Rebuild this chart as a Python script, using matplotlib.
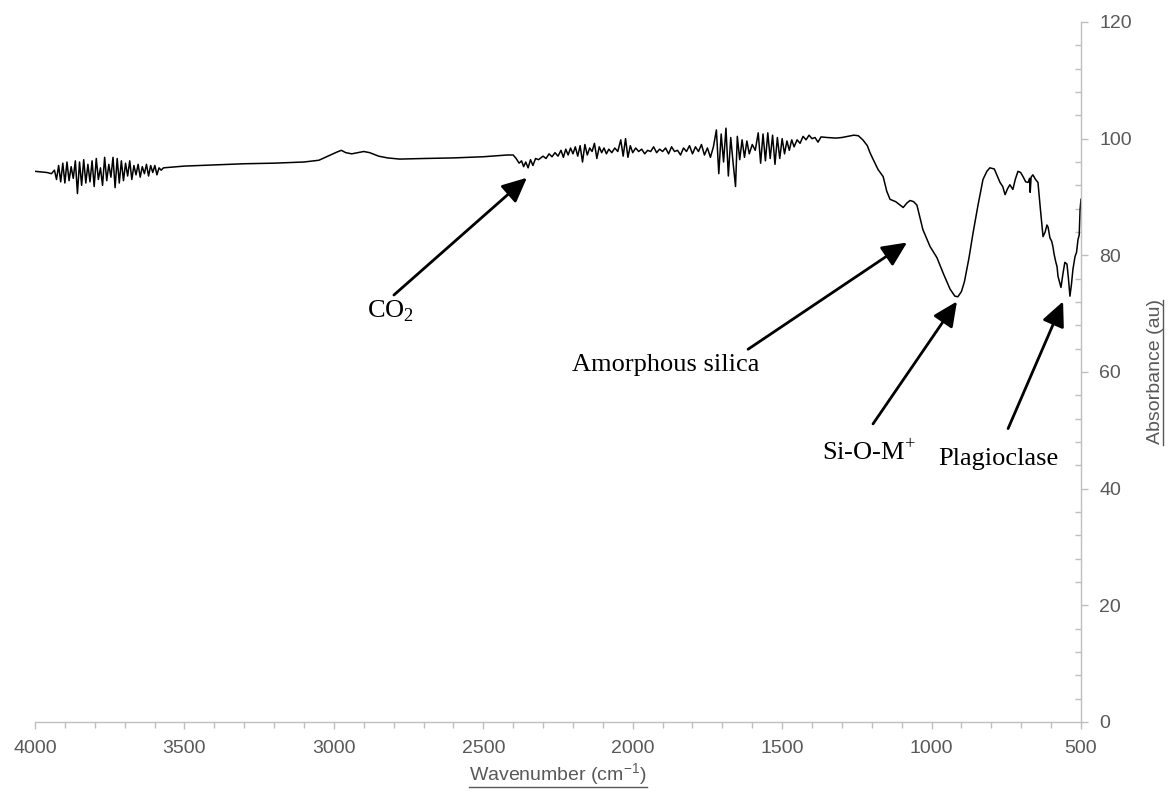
import matplotlib
matplotlib.use("Agg")
import matplotlib.pyplot as plt
from matplotlib.ticker import MultipleLocator
from matplotlib.lines import Line2D

plt.rcParams['font.family'] = ['Liberation Sans', 'DejaVu Sans']
plt.rcParams['mathtext.fontset'] = 'custom'
plt.rcParams['mathtext.rm'] = 'Liberation Serif'
plt.rcParams['mathtext.sf'] = 'Liberation Sans'

# ---- data ----
wavenumber = [
    4000, 3980, 3960, 3945,
    3935, 3928, 3921, 3914, 3907, 3900, 3893, 3886, 3879, 3872, 3865, 3858,
    3851, 3844, 3837, 3830, 3823, 3816, 3809, 3802, 3795, 3788, 3781, 3774,
    3767, 3760, 3753, 3746, 3739, 3732, 3725, 3718, 3711, 3704, 3697, 3690,
    3683, 3676, 3669, 3662, 3655, 3648, 3641, 3634, 3627, 3620, 3613, 3606,
    3599, 3592, 3585, 3578, 3570,
    3500, 3400, 3300, 3200, 3100, 3050, 3020, 2990, 2975, 2960, 2940, 2920,
    2900, 2880, 2850, 2820, 2780, 2700, 2600, 2500, 2420, 2400,
    2390, 2380, 2372, 2365, 2358, 2350, 2342, 2334, 2325, 2315, 2300, 2290,
    2280, 2270, 2260, 2250, 2240, 2232, 2224, 2216, 2208, 2200, 2192, 2184,
    2176, 2168, 2160, 2152, 2144, 2136, 2128, 2120, 2112, 2104, 2096, 2088,
    2080, 2070, 2060, 2050, 2040, 2032, 2024, 2016, 2008, 2000, 1990, 1980,
    1970, 1960, 1950, 1940, 1930, 1920, 1910, 1900, 1890, 1880, 1870, 1860,
    1850, 1840, 1830, 1820, 1810, 1800, 1790, 1780, 1770, 1760, 1750, 1740,
    1730,
    1720, 1712, 1704, 1696, 1688, 1680, 1672, 1664, 1656, 1650, 1642, 1634,
    1626, 1618, 1610, 1600, 1590,
    1580, 1572, 1564, 1556, 1548, 1540, 1532, 1524, 1516, 1508, 1500, 1492,
    1484, 1476, 1468, 1460, 1450, 1440, 1430, 1420, 1410, 1400, 1390, 1380,
    1370, 1350, 1320, 1300, 1280, 1260, 1245, 1230, 1215, 1206, 1196, 1179,
    1162, 1150, 1139, 1120, 1100, 1095, 1082, 1072, 1060, 1049, 1029, 1005,
    982, 960, 938, 922, 912, 900, 890, 875, 861, 845, 828, 815, 805, 790,
    780, 771, 762, 754, 746, 738, 728, 720, 711, 702, 694, 685, 677, 672,
    670, 667, 661, 652, 644, 636, 627, 620, 614, 610, 604, 598, 594, 590,
    585, 580, 577, 567, 560, 554, 547, 542, 537, 532, 527, 520, 515, 510,
    506, 503, 500,
]
absorbance = [
    94.4, 94.3, 94.2, 94.0,
    94.6, 93.0, 95.4, 92.6, 95.8, 92.4, 96.0, 92.8, 95.2, 93.2, 96.2, 90.6,
    96.0, 92.0, 96.4, 92.4, 95.6, 92.6, 96.2, 91.8, 96.6, 93.0, 95.0, 92.0,
    96.8, 92.8, 95.6, 93.4, 96.8, 91.6, 96.6, 92.4, 96.2, 92.8, 95.8, 93.6,
    96.2, 93.0, 95.4, 93.8, 95.6, 93.4, 95.2, 94.0, 95.6, 93.6, 95.4, 94.2,
    95.4, 93.8, 95.0, 94.6, 95.0,
    95.3, 95.5, 95.7, 95.8, 96.0, 96.3, 97.0, 97.7, 98.0, 97.6, 97.4, 97.6,
    97.8, 97.6, 97.0, 96.7, 96.5, 96.6, 96.7, 96.9, 97.2, 97.2,
    96.6, 95.8, 96.2, 95.2, 96.0, 95.0, 96.4, 95.4, 96.6, 96.4, 97.0, 96.6,
    97.4, 96.9, 97.6, 97.0, 98.0, 96.8, 98.2, 97.2, 98.4, 97.4, 98.6, 97.0,
    98.8, 96.0, 99.0, 97.2, 98.4, 97.8, 99.2, 96.6, 98.6, 97.6, 98.4, 97.4,
    98.2, 97.6, 98.4, 97.8, 99.8, 97.0, 100.0, 96.8, 98.8, 97.6, 98.4, 97.8,
    98.2, 97.4, 98.0, 97.8, 98.6, 97.6, 98.2, 97.8, 98.4, 97.4, 98.6, 97.8,
    98.0, 97.2, 98.4, 97.8, 98.8, 97.4, 98.6, 97.8, 99.0, 97.2, 98.4, 96.8,
    98.6,
    101.5, 94.0, 100.8, 96.0, 101.8, 93.6, 100.2, 95.8, 91.8, 100.4, 96.4, 99.8,
    96.8, 99.6, 97.4, 99.0, 98.0,
    101.0, 95.8, 100.8, 96.2, 101.0, 96.6, 100.6, 95.6, 100.2, 96.6, 100.0, 97.4,
    99.6, 98.0, 99.8, 98.6, 99.8, 99.2, 100.4, 99.8, 100.6, 100.0, 100.2, 99.4,
    100.3, 100.2, 100.1, 100.2, 100.4, 100.6, 100.5, 99.8, 98.8, 97.6, 96.5, 94.7,
    93.5, 91.0, 89.6, 89.2, 88.4, 88.2, 89.0, 89.4, 89.2, 88.6, 84.4, 81.5,
    79.6, 76.8, 74.2, 73.0, 72.9, 73.8, 75.5, 79.5, 83.9, 88.5, 93.0, 94.4, 95.0, 94.8,
    93.6, 92.5, 91.8, 90.4, 91.4, 92.1, 91.3, 93.0, 94.4, 94.2, 93.5, 92.6, 92.5, 93.2,
    90.8, 93.4, 93.8, 93.0, 92.5, 88.0, 83.2, 84.0, 85.2, 84.8, 83.0, 82.4, 81.5, 80.2,
    79.0, 78.0, 76.4, 74.5, 77.0, 78.8, 78.5, 76.0, 73.0, 75.0, 77.6, 79.8, 80.5, 82.7,
    83.5, 87.9, 89.6,
]

x_ticks = [4000, 3500, 3000, 2500, 2000, 1500, 1000, 500]
y_ticks = [0, 20, 40, 60, 80, 100, 120]

# annotations: (label, arrow tip, arrow tail, text centre)
annotations = [
    ("CO$_{\\mathrm{2}}$", (2354, 93.3), (2799, 73.2), (2812, 70.4)),
    ("Amorphous silica", (1082, 82.2), (1614, 63.9), (1889, 61.2)),
    ("Si-O-M$^{\\mathrm{+}}$", (915, 72.1), (1196, 51.1), (1209, 46.2)),
    ("Plagioclase", (560, 72.1), (744, 50.3), (778, 45.0)),
]

axis_col = '#bfbfbf'
text_col = '#595959'

fig = plt.figure(figsize=(11.71, 7.92), dpi=100)
ax = fig.add_axes([35 / 1171, 1 - 722 / 792, (1081 - 35) / 1171, (722 - 22) / 792])

ax.plot(wavenumber, absorbance, color='black', lw=1.1)

ax.set_xlim(4000, 500)
ax.set_ylim(0, 120)
ax.set_xticks(x_ticks)
ax.set_yticks(y_ticks)
ax.xaxis.set_minor_locator(MultipleLocator(100))
ax.yaxis.set_minor_locator(MultipleLocator(4))

for s in ['left', 'top']:
    ax.spines[s].set_visible(False)
for s in ['bottom', 'right']:
    ax.spines[s].set_color(axis_col)
    ax.spines[s].set_linewidth(1.0)

ax.yaxis.tick_right()
ax.tick_params(axis='x', which='major', direction='out', length=5, width=1,
               color=axis_col, labelcolor=text_col, labelsize=14, pad=8)
ax.tick_params(axis='x', which='minor', direction='out', length=4, width=1, color=axis_col)
ax.tick_params(axis='y', which='major', direction='out', length=5, width=1,
               color=axis_col, labelcolor=text_col, labelsize=14, pad=8,
               left=False, right=True, labelleft=False, labelright=True)
ax.tick_params(axis='y', which='minor', direction='in', length=4, width=1,
               color=axis_col, left=False, right=True)

for label, tip, tail, tpos in annotations:
    ax.annotate('', xy=tip, xytext=tail,
                arrowprops=dict(arrowstyle='-|>,head_length=0.75,head_width=0.35',
                                mutation_scale=20, color='black', lw=2.0,
                                shrinkA=0, shrinkB=0))
    ax.text(tpos[0], tpos[1], label, ha='center', va='center',
            fontsize=19, family='Liberation Serif', color='black')

xl = fig.text(558 / 1171, 1 - 775 / 792, 'Wavenumber (cm$^{\\mathsf{-1}}$)',
              ha='center', va='center', fontsize=14, color=text_col)
yl = fig.text(1155 / 1171, 1 - 372 / 792, 'Absorbance (au)', rotation=90,
              ha='center', va='center', fontsize=14, color=text_col)

# underline both axis titles
fig.canvas.draw()
r = fig.canvas.get_renderer()
W, H = fig.bbox.width, fig.bbox.height
bb = xl.get_window_extent(r)
yy = (bb.y0 + 1) / H
fig.add_artist(Line2D([bb.x0 / W, bb.x1 / W], [yy, yy], color=text_col, lw=1.0,
                      transform=fig.transFigure))
bb = yl.get_window_extent(r)
xx = (bb.x1 - 1) / W
fig.add_artist(Line2D([xx, xx], [bb.y0 / H, bb.y1 / H], color=text_col, lw=1.0,
                      transform=fig.transFigure))

fig.savefig('out.png', dpi=100)
